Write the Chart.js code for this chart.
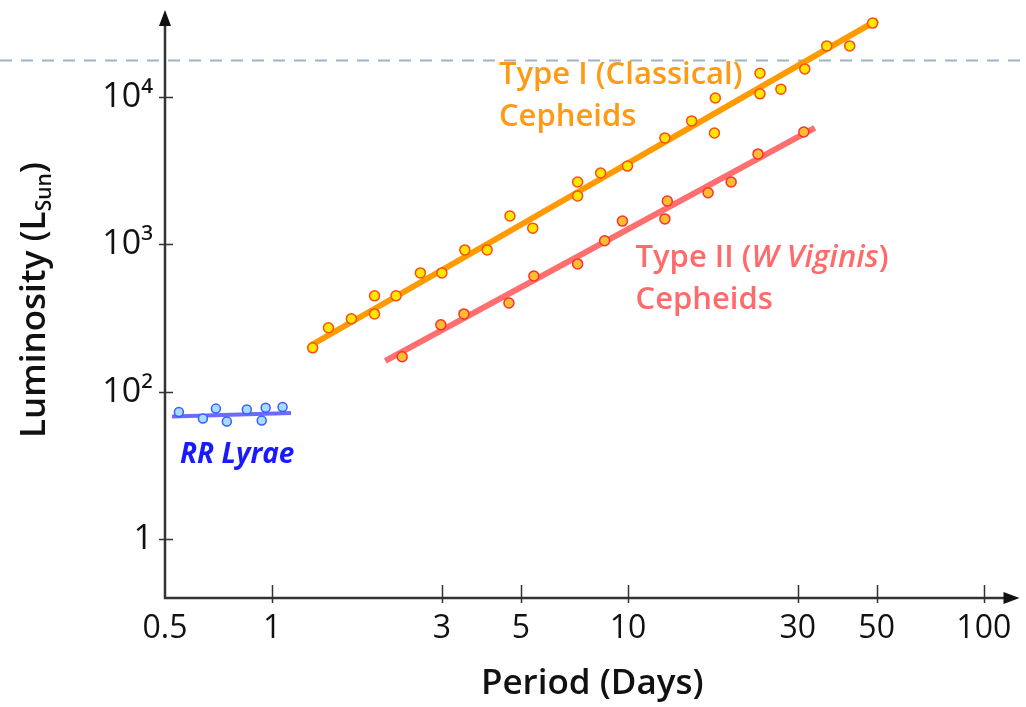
<!DOCTYPE html>
<html>
<head>
<meta charset="utf-8">
<script src="https://cdn.jsdelivr.net/npm/chart.js@4.4.1/dist/chart.umd.min.js"></script>
<style>
  body { margin: 0; background: #fff; }
</style>
</head>
<body>
<canvas id="plChart" width="1026" height="707"></canvas>
<script>
// Period (days) and luminosity (L_sun)
const classicalPeriod = [1.30, 1.44, 1.67, 1.94, 1.94, 2.23, 2.61, 3.00, 3.48, 4.02, 4.66, 5.40, 7.22, 7.22,
    8.38, 9.97, 12.7, 15.1, 17.6, 17.5, 23.5, 23.5, 26.9, 31.4, 36.2, 42.0, 48.7];
const classicalLum = [199, 272, 313, 448, 338, 448, 641, 641, 918, 918, 1560, 1290, 2650, 2130,
    3050, 3400, 5280, 6880, 9850, 5700, 14500, 10500, 11300, 15500, 22200, 22200, 31700];

const typeIIPeriod = [2.32, 2.98, 3.46, 4.63, 5.44, 7.22, 8.60, 9.65, 12.7, 12.9, 16.8, 19.5, 23.2, 31.2];
const typeIILum = [173, 285, 338, 401, 611, 738, 1060, 1440, 1490, 1970, 2240, 2650, 4110, 5790];

const rrPeriod = [0.547, 0.639, 0.695, 0.746, 0.849, 0.935, 0.959, 1.07];
const rrLum = [73, 66, 77, 63, 76, 64, 78, 79];

// fitted relations (end points)
const classicalFitPeriod = [1.29, 50.3];
const classicalFitLum = [208, 33300];
const typeIIFitPeriod = [2.08, 33.5];
const typeIIFitLum = [162, 6170];
const rrFitPeriod = [0.523, 1.13];
const rrFitLum = [68, 72];

const xTicks = [0.5, 1, 3, 5, 10, 30, 50, 100];
const xTickLabels = ['0.5', '1', '3', '5', '10', '30', '50', '100'];
const yTicks = [10, 100, 1000, 10000];
const yTickLabels = ['1', '10²', '10³', '10⁴'];

const FONT = "'Open Sans', sans-serif";

function pts(xs, ys) {
    return xs.map((v, i) => ({x: v, y: ys[i]}));
}

// annotation text, anchored in data units (left edge, middle of first line)
const notes = [
    {p: 4.34, l: 14100, color: '#ff9a14', gap: 42, lines: [
        [['Type I (Classical)', '600 31px ' + FONT]],
        [['Cepheids', '600 31px ' + FONT]]]},
    {p: 10.5, l: 810, color: '#ff6b6b', gap: 42, lines: [
        [['Type II (', '600 31px ' + FONT], ['W Viginis', 'italic 600 31px ' + FONT], [')', '600 31px ' + FONT]],
        [['Cepheids', '600 31px ' + FONT]]]},
    {p: 0.551, l: 37.4, color: '#1a1aff', gap: 0, lines: [
        [['RR Lyrae', 'italic 700 28px ' + FONT]]]}
];

const decor = {
    id: 'decor',
    beforeDatasetsDraw(chart) {
        const {ctx, chartArea: a, scales: {x, y}} = chart;
        ctx.save();
        // dashed guide across the slide
        const gy = Math.round(y.getPixelForValue(17800)) + 0.5;
        ctx.strokeStyle = '#9fb4c8';
        ctx.lineWidth = 2;
        ctx.setLineDash([12, 9]);
        ctx.beginPath();
        ctx.moveTo(0, gy);
        ctx.lineTo(chart.width, gy);
        ctx.stroke();
        ctx.setLineDash([]);

        // axes with arrow heads
        ctx.strokeStyle = '#333';
        ctx.fillStyle = '#111';
        ctx.lineWidth = 2.5;
        ctx.beginPath();
        ctx.moveTo(a.left, a.top + 8);
        ctx.lineTo(a.left, a.bottom);
        ctx.lineTo(a.right - 8, a.bottom);
        ctx.stroke();
        ctx.beginPath();
        ctx.moveTo(a.left, a.top);
        ctx.lineTo(a.left - 6, a.top + 16);
        ctx.lineTo(a.left + 6, a.top + 16);
        ctx.closePath();
        ctx.fill();
        ctx.beginPath();
        ctx.moveTo(a.right, a.bottom);
        ctx.lineTo(a.right - 16, a.bottom - 6);
        ctx.lineTo(a.right - 16, a.bottom + 6);
        ctx.closePath();
        ctx.fill();

        // tick marks crossing the axes
        ctx.lineWidth = 1.5;
        ctx.beginPath();
        xTicks.slice(1).forEach(v => {
            const px = Math.round(x.getPixelForValue(v)) + 0.5;
            ctx.moveTo(px, a.bottom - 13);
            ctx.lineTo(px, a.bottom + 5);
        });
        yTicks.forEach(v => {
            const py = Math.round(y.getPixelForValue(v)) + 0.5;
            ctx.moveTo(a.left - 6, py);
            ctx.lineTo(a.left + 8, py);
        });
        ctx.stroke();
        ctx.restore();
    },
    afterDatasetsDraw(chart) {
        const {ctx, chartArea: a, scales: {x, y}} = chart;
        ctx.save();
        ctx.textBaseline = 'middle';
        ctx.textAlign = 'left';
        notes.forEach(n => {
            ctx.fillStyle = n.color;
            let py = y.getPixelForValue(n.l);
            n.lines.forEach(runs => {
                let px = x.getPixelForValue(n.p);
                runs.forEach(([text, font]) => {
                    ctx.font = font;
                    ctx.fillText(text, px, py);
                    px += ctx.measureText(text).width;
                });
                py += n.gap;
            });
        });

        // y title with subscript
        const big = '600 35px ' + FONT;
        const small = '600 21px ' + FONT;
        ctx.fillStyle = '#111';
        ctx.textBaseline = 'alphabetic';
        ctx.font = big;
        const w1 = ctx.measureText('Luminosity (L').width;
        const w3 = ctx.measureText(')').width;
        ctx.font = small;
        const w2 = ctx.measureText('Sun').width;
        const total = w1 + w2 + w3;
        ctx.translate(45, 300);
        ctx.rotate(-Math.PI / 2);
        let tx = -total / 2;
        ctx.font = big;
        ctx.fillText('Luminosity (L', tx, 0);
        tx += w1;
        ctx.font = small;
        ctx.fillText('Sun', tx, 6);
        tx += w2;
        ctx.font = big;
        ctx.fillText(')', tx, 0);
        ctx.restore();
    }
};

const ctx = document.getElementById('plChart').getContext('2d');
const plChart = new Chart(ctx, {
    type: 'scatter',
    data: {
        datasets: [
            {
                label: 'Type I (Classical) Cepheids',
                data: pts(classicalPeriod, classicalLum),
                order: 1,
                pointRadius: 5,
                pointBackgroundColor: '#ffe800',
                pointBorderColor: '#ff4a10',
                pointBorderWidth: 1.5
            },
            {
                label: 'Type II Cepheids',
                data: pts(typeIIPeriod, typeIILum),
                order: 1,
                pointRadius: 5,
                pointBackgroundColor: '#ffbe30',
                pointBorderColor: '#ff2e2e',
                pointBorderWidth: 1.5
            },
            {
                label: 'RR Lyrae',
                data: pts(rrPeriod, rrLum),
                order: 1,
                pointRadius: 4.5,
                pointBackgroundColor: '#a6dcff',
                pointBorderColor: '#3a5cff',
                pointBorderWidth: 1.5
            },
            {
                label: 'Type I fit',
                data: pts(classicalFitPeriod, classicalFitLum),
                order: 2,
                showLine: true,
                borderColor: '#ff9a00',
                borderWidth: 6,
                pointRadius: 0
            },
            {
                label: 'Type II fit',
                data: pts(typeIIFitPeriod, typeIIFitLum),
                order: 2,
                showLine: true,
                borderColor: '#ff6f6f',
                borderWidth: 6,
                pointRadius: 0
            },
            {
                label: 'RR Lyrae fit',
                data: pts(rrFitPeriod, rrFitLum),
                order: 2,
                showLine: true,
                borderColor: '#6b6bff',
                borderWidth: 4,
                pointRadius: 0
            }
        ]
    },
    options: {
        responsive: false,
        animation: false,
        layout: {padding: {top: 10, right: 4, left: 0, bottom: 0}},
        plugins: {
            legend: {display: false},
            tooltip: {enabled: false}
        },
        scales: {
            x: {
                type: 'logarithmic',
                min: 0.5,
                max: 126,
                afterBuildTicks: s => { s.ticks = xTicks.map(v => ({value: v})); },
                afterFit: s => { s.height = 109; s.paddingLeft = 0; s.paddingRight = 0; },
                grid: {display: false, drawTicks: false},
                border: {display: false},
                ticks: {
                    autoSkip: false,
                    maxRotation: 0,
                    padding: 12,
                    color: '#111',
                    font: {family: FONT, size: 32},
                    callback: v => xTickLabels[xTicks.indexOf(v)] ?? ''
                },
                title: {
                    display: true,
                    text: 'Period (Days)',
                    color: '#111',
                    font: {family: FONT, size: 35, weight: '600'},
                    padding: {top: 0, bottom: 2}
                }
            },
            y: {
                type: 'logarithmic',
                min: 4,
                max: 38900,
                afterBuildTicks: s => { s.ticks = yTicks.map(v => ({value: v})); },
                afterFit: s => { s.width = 165; s.paddingTop = 0; s.paddingBottom = 0; },
                grid: {display: false, drawTicks: false},
                border: {display: false},
                ticks: {
                    autoSkip: false,
                    padding: 12,
                    color: '#111',
                    font: {family: FONT, size: 34},
                    callback: v => yTickLabels[yTicks.indexOf(v)] ?? ''
                }
            }
        }
    },
    plugins: [decor]
});
</script>
</body>
</html>
